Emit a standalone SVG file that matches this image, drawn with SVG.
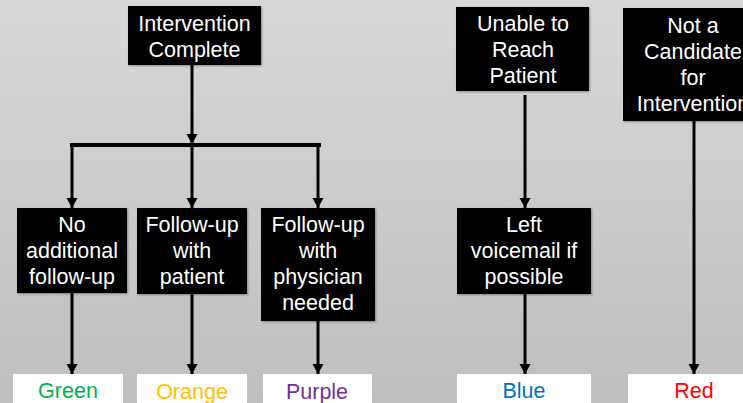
<svg xmlns="http://www.w3.org/2000/svg" width="743" height="403" viewBox="0 0 743 403">
<defs>
<linearGradient id="bg" x1="0" y1="0" x2="0" y2="1">
<stop offset="0" stop-color="#d8d8d8"/>
<stop offset="1" stop-color="#bebebe"/>
</linearGradient>
<marker id="arr" markerUnits="userSpaceOnUse" markerWidth="12" markerHeight="12" viewBox="0 0 12 12" refX="11" refY="6" orient="auto">
<path d="M1,0.5 L11,6 L1,11.5 Z" fill="#000"/>
</marker>
<filter id="sh" x="-10%" y="-10%" width="120%" height="120%">
<feDropShadow dx="1" dy="1" stdDeviation="0.8" flood-color="#000" flood-opacity="0.35"/>
</filter>
</defs>
<style>
.box{fill:#000;filter:url(#sh);}
.out{fill:#fff;}
.t{font-family:"Liberation Sans",Arial,sans-serif;font-size:21.5px;fill:#fff;text-anchor:middle;}
.c{font-family:"Liberation Sans",Arial,sans-serif;font-size:21.5px;text-anchor:middle;}
.ln{stroke:#000;stroke-width:3;fill:none;}
</style>
<rect x="0" y="0" width="743" height="403" fill="url(#bg)"/>
<g id="connectors">
<line class="ln" x1="192" y1="65" x2="192" y2="144" marker-end="url(#arr)"/>
<line x1="70" y1="145" x2="321" y2="145" stroke="#000" stroke-width="4"/>
<line class="ln" x1="72" y1="145" x2="72" y2="208" marker-end="url(#arr)"/>
<line class="ln" x1="192" y1="145" x2="192" y2="208" marker-end="url(#arr)"/>
<line class="ln" x1="318" y1="145" x2="318" y2="208" marker-end="url(#arr)"/>
<line class="ln" x1="72" y1="293" x2="72" y2="374" marker-end="url(#arr)"/>
<line class="ln" x1="192" y1="294" x2="192" y2="374" marker-end="url(#arr)"/>
<line class="ln" x1="318" y1="321" x2="318" y2="374" marker-end="url(#arr)"/>
<line class="ln" x1="525" y1="95" x2="525" y2="208" marker-end="url(#arr)"/>
<line class="ln" x1="525" y1="294" x2="525" y2="374" marker-end="url(#arr)"/>
<line class="ln" x1="694" y1="121" x2="694" y2="374" marker-end="url(#arr)"/>
</g>
<g id="intervention-complete">
<rect class="box" x="128" y="6" width="133" height="59"/>
<text class="t" x="194.5" y="31">Intervention</text>
<text class="t" x="194.5" y="57">Complete</text>
</g>
<g id="no-additional">
<rect class="box" x="17" y="208" width="110" height="85"/>
<text class="t" x="72" y="232">No</text>
<text class="t" x="72" y="258">additional</text>
<text class="t" x="72" y="284">follow-up</text>
</g>
<g id="followup-patient">
<rect class="box" x="137" y="208" width="110" height="86"/>
<text class="t" x="192" y="232">Follow-up</text>
<text class="t" x="192" y="258">with</text>
<text class="t" x="192" y="284">patient</text>
</g>
<g id="followup-physician">
<rect class="box" x="261" y="208" width="114" height="113"/>
<text class="t" x="318" y="232">Follow-up</text>
<text class="t" x="318" y="258">with</text>
<text class="t" x="318" y="284">physician</text>
<text class="t" x="318" y="310">needed</text>
</g>
<g id="unable-to-reach">
<rect class="box" x="456" y="7" width="133" height="84"/>
<text class="t" x="523" y="31">Unable to</text>
<text class="t" x="523" y="57">Reach</text>
<text class="t" x="523" y="83">Patient</text>
</g>
<g id="left-voicemail">
<rect class="box" x="457" y="208" width="134" height="86"/>
<text class="t" x="524" y="232">Left</text>
<text class="t" x="524" y="258">voicemail if</text>
<text class="t" x="524" y="284">possible</text>
</g>
<g id="not-a-candidate">
<rect class="box" x="623" y="8" width="140" height="113"/>
<text class="t" x="693" y="33">Not a</text>
<text class="t" x="693" y="59">Candidate</text>
<text class="t" x="693" y="85">for</text>
<text class="t" x="693" y="111">Intervention</text>
</g>
<g id="green">
<rect class="out" x="13" y="374" width="110" height="40"/>
<text class="c" x="68" y="398" fill="#00b050">Green</text>
</g>
<g id="orange">
<rect class="out" x="137" y="374" width="110" height="40"/>
<text class="c" x="192" y="399" fill="#ffc000">Orange</text>
</g>
<g id="purple">
<rect class="out" x="263" y="374" width="109" height="40"/>
<text class="c" x="317" y="399" fill="#7030a0">Purple</text>
</g>
<g id="blue">
<rect class="out" x="457" y="374" width="134" height="40"/>
<text class="c" x="524" y="398" fill="#0070c0">Blue</text>
</g>
<g id="red">
<rect class="out" x="628" y="374" width="140" height="40"/>
<text class="c" x="694" y="398" fill="#ff0000">Red</text>
</g>
</svg>
